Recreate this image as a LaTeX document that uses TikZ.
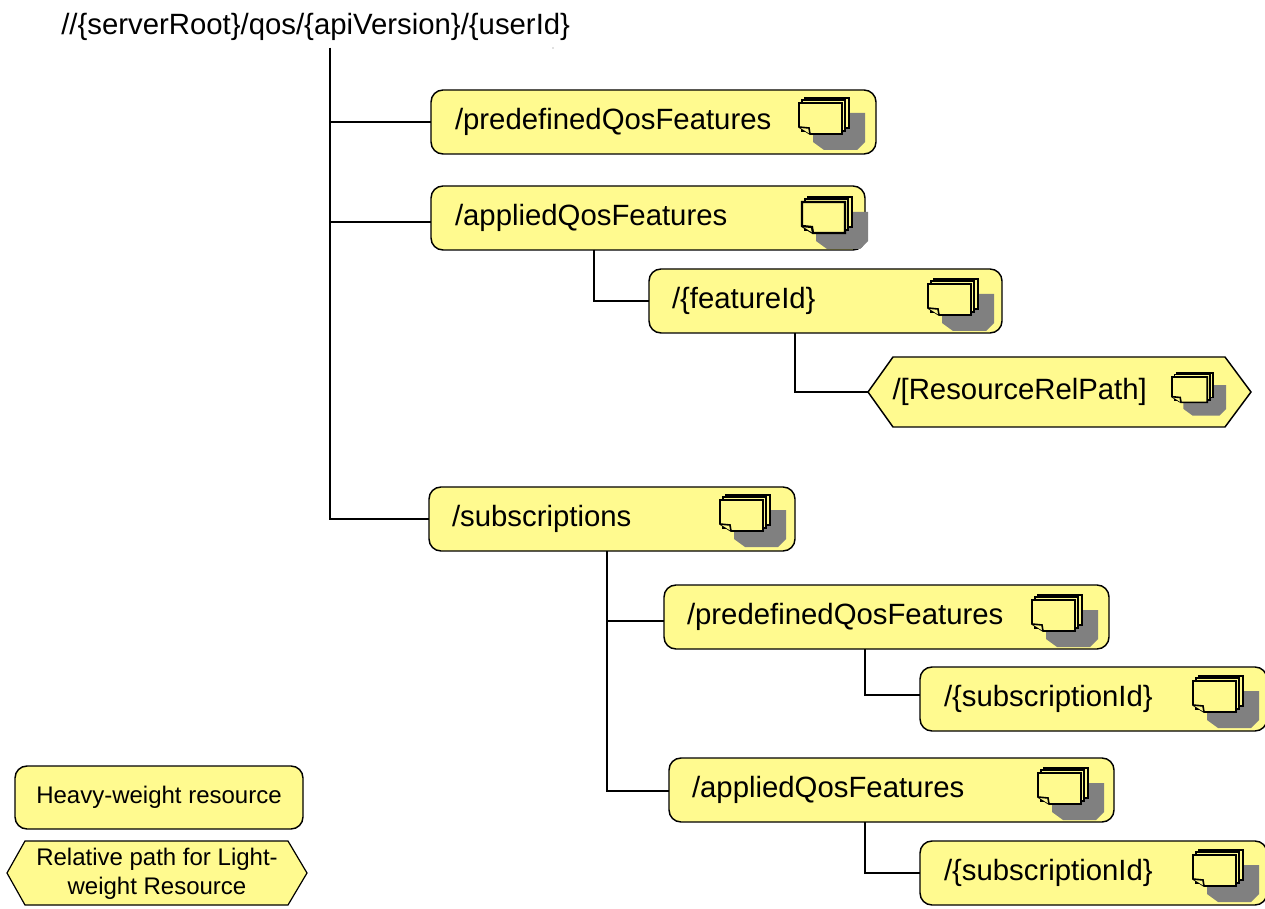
\documentclass[tikz,border=0pt]{standalone}
\usepackage{fontspec}
\setmainfont{Liberation Sans}
\usetikzlibrary{calc}
\definecolor{resfill}{HTML}{FFFA8F}
\definecolor{shadowgrey}{HTML}{808080}
\newcommand{\pxlen}[1]{\the\dimexpr #1pt*3/4\relax}
\tikzset{
  resbox/.style={draw=black,fill=resfill,line width=1.1pt,rounded corners=9pt,outer sep=0pt,inner sep=0pt,align=left,anchor=north west,font=\fontsize{22pt}{26pt}\selectfont,text=black},
  pathlabel/.style={outer sep=0pt,inner sep=0pt,align=center,anchor=center,font=\fontsize{22pt}{26pt}\selectfont},
  hexshape/.style={draw=black,fill=resfill,line width=1.1pt,line join=miter},
  link/.style={draw=black,line width=1.1pt},
  iconpage/.style={draw=black,fill=resfill,line join=miter},
  legendfont/.style={font=\fontsize{18pt}{22pt}\selectfont}
}
% name, x, y, width, height, text inset, text
\newcommand{\resnode}[7]{%
  \node[resbox,minimum width=\pxlen{#4},minimum height=\pxlen{#5},text width=\pxlen{#4}] (#1) at (#2,#3) {\hspace*{\pxlen{#6}}#7};
}
% x, y of front page top-left, scale, line width
\newcommand{\docicon}[4]{%
  \begin{scope}[shift={(#1,#2)},scale=#3,line width=#4]
    \fill[shadowgrey] (14,10) -- (66,10) -- (66,39) -- (58,47) -- (25,47) -- (14,39) -- cycle;
    \draw[iconpage] (6,-5) -- (50,-5) -- (50,25) -- (6,25) -- cycle;
    \draw[iconpage] (3,-3) -- (46,-3) -- (46,28) -- (3,28) -- cycle;
    \draw[iconpage] (0,0) -- (43,0) -- (43,31) -- (11,31) -- (0,24) -- cycle;
    \draw[iconpage] (0,24) -- (10,25) -- (11,31);
  \end{scope}
}
\begin{document}
\begin{tikzpicture}[x=0.75pt,y=-0.75pt]
\useasboundingbox (0,0) rectangle (1265,909);
\fill[white] (0,0) rectangle (1265,909);

\node[anchor=west,inner sep=0pt,font=\fontsize{22pt}{26pt}\selectfont] (root) at (61,27) {//\{serverRoot\}/qos/\{apiVersion\}/\{userId\}};
\fill[gray] (553,48) circle (0.6);
\coordinate (trunk) at (330,48);

\resnode{pq}{431}{90}{445}{64}{24}{/predefinedQosFeatures}
\resnode{app}{431}{186}{434}{64}{24}{/appliedQosFeatures}
\resnode{fid}{649}{269}{353}{64}{23}{/\{featureId\}}
\resnode{sub}{429}{487}{366}{64}{23}{/subscriptions}
\resnode{pqb}{664}{585}{445}{64}{23}{/predefinedQosFeatures}
\resnode{sida}{920}{667}{347}{64}{24}{/\{subscriptionId\}}
\resnode{appb}{669}{758}{445}{64}{23}{/appliedQosFeatures}
\resnode{sidb}{920}{841}{347}{64}{24}{/\{subscriptionId\}}

\draw[hexshape] (868,392) -- (893,357) -- (1225,357) -- (1251,392) -- (1225,427) -- (893,427) -- cycle;
\node[pathlabel,anchor=west,minimum height=\pxlen{70}] (rel) at (868,392) {\hspace*{\pxlen{24.5}}/[ResourceRelPath]};

\draw[link] (trunk) |- (sub.west);
\draw[link] (trunk) |- (pq.west);
\draw[link] (trunk) |- ($(app.west)+(0,4)$);
\draw[link] ($(app.south)+(-54,0)$) |- (fid.west);
\draw[link] ($(fid.south)+(-30.5,0)$) |- (rel.west);
\draw[link] ($(sub.south)+(-5,0)$) |- ($(pqb.west)+(0,4)$);
\draw[link] ($(sub.south)+(-5,0)$) |- ($(appb.west)+(0,1)$);
\draw[link] ($(pqb.south)+(-21.5,0)$) |- ($(sida.west)+(0,-4)$);
\draw[link] ($(appb.south)+(-26.5,0)$) |- (sidb.west);

\docicon{799}{103}{1}{1.2pt}
\docicon{802}{202}{1}{1.7pt}
\docicon{928}{284}{1}{1.2pt}
\docicon{1172}{377}{0.82}{1.2pt}
\docicon{720}{500}{1}{1.2pt}
\docicon{1032}{600}{1}{1.2pt}
\docicon{1193}{681}{1}{1.2pt}
\docicon{1038}{773}{1}{1.2pt}
\docicon{1193}{855}{1}{1.2pt}

% legend
\node[resbox,anchor=north west,minimum width=\pxlen{288},minimum height=\pxlen{63},align=center,legendfont] (legA) at (15,766) {Heavy-weight resource};
\draw[hexshape,line width=0.9pt] (7,873) -- (25,841) -- (288,841) -- (307,873) -- (288,905) -- (25,905) -- cycle;
\node[pathlabel,legendfont] (legB) at (157,874) {Relative path for Light-\\weight Resource};
\end{tikzpicture}
\end{document}
